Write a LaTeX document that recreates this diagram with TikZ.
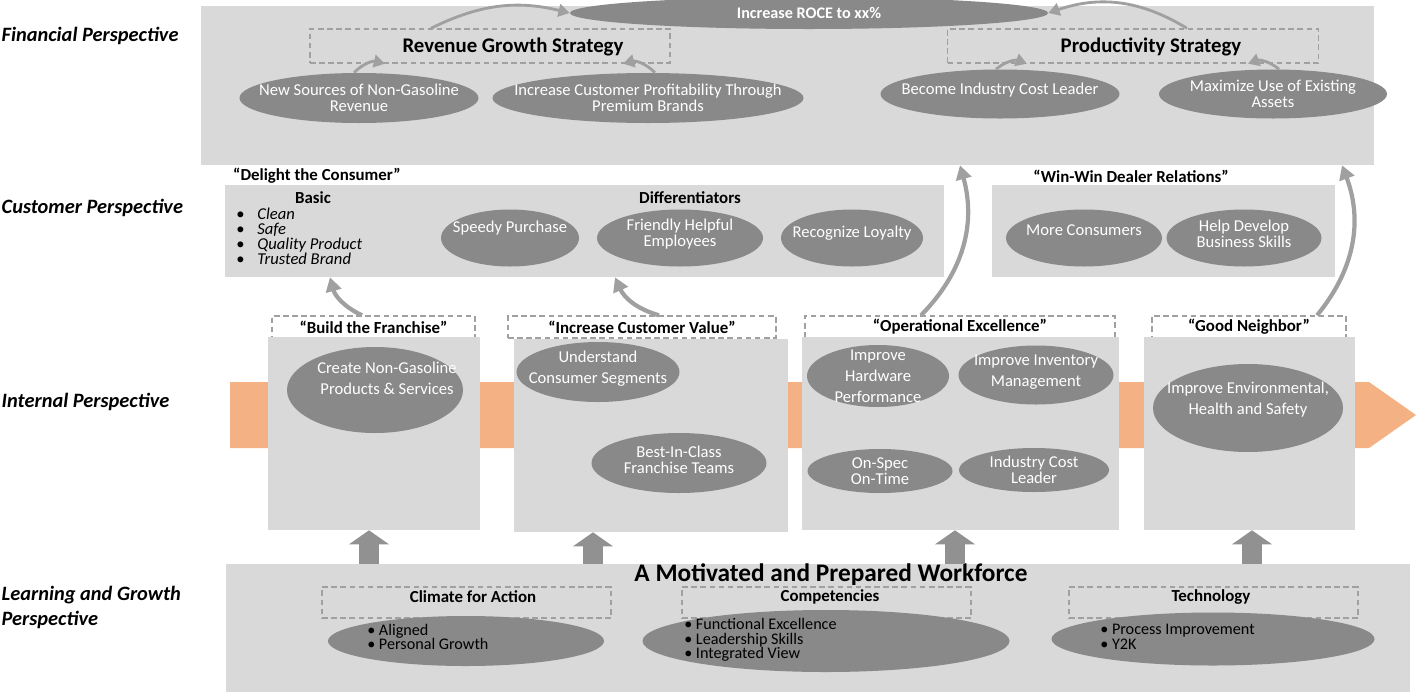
\documentclass[tikz,border=0pt]{standalone}
\usepackage{fontspec}
\setmainfont{Carlito}
\usetikzlibrary{shapes.geometric, arrows.meta, positioning}
\definecolor{panelgray}{RGB}{217, 217, 217}
\definecolor{ovalgray}{RGB}{137, 137, 137}
\definecolor{dashgray}{RGB}{160, 160, 160}
\definecolor{arrowgray}{RGB}{160, 160, 160}
\definecolor{blockgray}{RGB}{145, 145, 145}
\definecolor{bandorange}{RGB}{244, 177, 131}
\newcommand{\bitem}[1]{\makebox[15pt][l]{\textbullet}\textit{#1}}

\begin{document}
\begin{tikzpicture}[
    x=0.025cm, y=-0.025cm,
    sz/.style 2 args={
        minimum width=#1*0.025cm,
        minimum height=#2*0.025cm
    },
    panel/.style={
        fill=panelgray,
        inner sep=0pt
    },
    dashbox/.style={
        draw=dashgray,
        line width=1pt,
        dash pattern=on 4pt off 2.5pt,
        inner sep=0pt,
        font=\fontsize{12}{13}\selectfont\bfseries
    },
    oval/.style={
        ellipse,
        fill=ovalgray,
        inner sep=0pt
    },
    ovaltext/.style={
        text=white,
        align=center,
        font=\fontsize{11.8}{11.4}\selectfont
    },
    widetext/.style={
        ovaltext,
        font=\fontsize{11.8}{15}\selectfont
    },
    listtext/.style={
        align=left,
        inner sep=0pt,
        font=\fontsize{11.5}{10.3}\selectfont
    },
    persp/.style={
        anchor=west,
        align=left,
        inner xsep=1pt,
        font=\fontsize{14.5}{17.8}\selectfont\bfseries\itshape
    },
    strat/.style={
        font=\fontsize{14.8}{16}\selectfont\bfseries
    },
    subhead/.style={
        font=\fontsize{12}{13}\selectfont\bfseries
    },
    midarrow/.style={
        draw=arrowgray,
        line width=2pt,
        -{Triangle[length=8pt, width=9pt]}
    },
    bigarrow/.style={
        draw=arrowgray,
        line width=3pt,
        -{Triangle[length=10pt, width=11pt]}
    },
    blockarrow/.style={
        draw=blockgray,
        line width=14pt,
        -{Triangle[length=10pt, width=28pt]}
    }
]
\useasboundingbox (0,0) rectangle (1421,692);

% Perspectives
\node[persp] (finpersp) at (0,36) {Financial Perspective};
\node[persp] (custpersp) at (0,208) {Customer Perspective};
\node[persp] (intpersp) at (0,402) {Internal Perspective};
\node[persp] (learnpersp) at (0,607) {Learning and Growth\\Perspective};

% ==================== FINANCIAL ====================
\node[panel, sz={1173}{159}] (fin) at (787.5,85.5) {};
\node[oval, sz={478}{32}, text=white, font=\fontsize{11.5}{12}\selectfont\bfseries] (roce) at (809,13) {Increase ROCE to xx\%};

\node[dashbox, sz={360}{34}] (revbox) at (490,46) {};
\node[strat] (revtitle) at (513,47) {Revenue Growth Strategy};
\node[dashbox, sz={371}{34}] (prodbox) at (1133,46) {};
\node[strat] (prodtitle) at (1151,47) {Productivity Strategy};

\node[oval, sz={239}{50}, label={[ovaltext]center:{New Sources of Non-Gasoline\\Revenue}}] (newsrc) at (359,98) {};
\node[oval, sz={311}{50}, label={[ovaltext]center:{Increase Customer Profitability Through\\Premium Brands}}] (custprof) at (648,98) {};
\node[oval, sz={239}{49}, label={[ovaltext, yshift=0.1cm]center:{Become Industry Cost Leader}}] (costlead) at (1000,94) {};
\node[oval, sz={228}{49}, label={[ovaltext]center:{Maximize Use of Existing\\Assets}}] (assets) at (1273,94) {};

\draw[midarrow] (newsrc.north -| 354,0) to[bend left=30] (revbox.south -| 385,0);
\draw[midarrow] (custprof.north -| 655,0) to[bend right=30] (revbox.south -| 623,0);
\draw[midarrow] (costlead.north -| 996,0) to[bend left=30] (prodbox.south -| 1027,0);
\draw[midarrow] (assets.north -| 1279,0) to[bend right=30] (prodbox.south -| 1248,0);
\draw[midarrow] (revbox.north -| 431,0) to[bend left=20] (roce.west);
\draw[midarrow] (prodbox.north -| 1187,0) to[bend right=25] (roce.east);

% ==================== CUSTOMER ====================
\node[subhead] (delight) at (317,176) {“Delight the Consumer”};
\node[panel, sz={719}{92}] (delightpanel) at (584,231) {};
\node[subhead] (basic) at (313,198) {Basic};
\node[listtext, anchor=north west, font=\fontsize{11.8}{10.5}\selectfont] (basiclist) at (236,208)
    {\bitem{Clean}\\\bitem{Safe}\\\bitem{Quality Product}\\\bitem{Trusted Brand}};
\node[subhead] (diff) at (690,198) {Differentiators};
\node[oval, sz={138}{57}, label={[ovaltext, yshift=0.25cm]center:{Speedy Purchase}}] (speedy) at (510,238) {};
\node[oval, sz={166}{57}, label={[ovaltext, yshift=0.1cm]center:{Friendly Helpful\\Employees}}] (friendly) at (680,238) {};
\node[oval, sz={142}{57}, label={[ovaltext, yshift=0.12cm]center:{Recognize Loyalty}}] (loyalty) at (852,238) {};

\node[subhead] (winwin) at (1131,176) {“Win-Win Dealer Relations”};
\node[panel, sz={343}{92}] (dealerpanel) at (1163.5,231) {};
\node[oval, sz={156}{57}, label={[ovaltext, yshift=0.2cm]center:{More Consumers}}] (morecons) at (1084,238) {};
\node[oval, sz={155}{57}, label={[ovaltext, yshift=0.1cm]center:{Help Develop\\Business Skills}}] (bizskills) at (1244,238) {};

% ==================== INTERNAL ====================
\fill[bandorange] (230,382) -- (1369,382) -- (1416,415) -- (1369,448) -- (230,448) -- cycle;

\node[dashbox, sz={203}{22}] (franlbl) at (373.5,327) {“Build the Franchise”};
\node[dashbox, sz={268}{22}] (custvlbl) at (642,327) {“Increase Customer Value”};
\node[dashbox, sz={310}{22}] (opexlbl) at (960,327) {“Operational Excellence”};
\node[dashbox, sz={194}{22}] (goodlbl) at (1249,327) {“Good Neighbor”};

\node[panel, sz={212}{193}] (franbox) at (374,433.5) {};
\node[panel, sz={274}{193}] (custvbox) at (651,435.5) {};
\node[panel, sz={317}{193}] (opexbox) at (960.5,433.5) {};
\node[panel, sz={211}{193}] (goodbox) at (1249.5,433.5) {};

\node[oval, sz={176}{86}, label={[widetext, xshift=0.3cm, yshift=0.3cm]center:{Create Non-Gasoline\\Products \& Services}}] (nongas) at (375,390) {};
\node[oval, sz={163}{60}, label={[widetext, yshift=0.08cm]center:{Understand\\Consumer Segments}}] (segments) at (598,372) {};
\node[oval, sz={175}{60}, label={[ovaltext, yshift=0.08cm]center:{Best-In-Class\\Franchise Teams}}] (franteams) at (679,463) {};
\node[oval, sz={142}{62}, label={[widetext]center:{Improve\\Hardware\\Performance}}] (hardware) at (878,376) {};
\node[oval, sz={155}{59}, label={[widetext, yshift=0.08cm]center:{Improve Inventory\\Management}}] (inventory) at (1036,375) {};
\node[oval, sz={145}{44}, label={[ovaltext]center:{On-Spec\\On-Time}}] (onspec) at (880,471) {};
\node[oval, sz={150}{44}, label={[ovaltext]center:{Industry Cost\\Leader}}] (icl) at (1034,470) {};
\node[oval, sz={190}{88}, label={[widetext, yshift=0.2cm]center:{Improve Environmental,\\Health and Safety}}] (envhs) at (1248,408) {};

\draw[bigarrow] (franlbl.north -| 362,0) to[bend left=25] (delightpanel.south -| 330,0);
\draw[bigarrow] (custvlbl.north -| 659,0) to[bend left=25] (delightpanel.south -| 615,0);
\draw[bigarrow] (opexlbl.north -| 921,0) to[bend right=30] (fin.south -| 960,0);
\draw[bigarrow] (goodlbl.north -| 1317,0) to[bend right=30] (fin.south -| 1342,0);

% ==================== LEARNING AND GROWTH ====================
\node[panel, sz={1184}{128}] (learn) at (818,628) {};
\node[font=\fontsize{18}{20}\selectfont\bfseries] (workforce) at (831,575) {A Motivated and Prepared Workforce};

\draw[blockarrow] (learn.north -| 369,0) -- (franbox.south -| 369,0);
\draw[blockarrow] (learn.north -| 593,0) -- (custvbox.south -| 593,0);
\draw[blockarrow] (learn.north -| 955,0) -- (opexbox.south -| 955,0);
\draw[blockarrow] (learn.north -| 1252,0) -- (goodbox.south -| 1252,0);

\node[dashbox, sz={289}{31}] (climatebox) at (466.5,602.5) {};
\node[subhead] (climate) at (473,597) {Climate for Action};
\node[dashbox, sz={289}{31}] (compbox) at (826.5,602.5) {};
\node[subhead] (comp) at (830,597) {Competencies};
\node[dashbox, sz={289}{31}] (techbox) at (1213.5,602.5) {};
\node[subhead] (tech) at (1211,597) {Technology};

\node[oval, sz={276}{50}] (climateov) at (466,641) {};
\node[listtext, anchor=west] (climatelist) at (367,637) {\textbullet\ Aligned\\\textbullet\ Personal Growth};
\node[oval, sz={367}{62}] (compov) at (826,641) {};
\node[listtext, anchor=west] (complist) at (684,640) {\textbullet\ Functional Excellence\\\textbullet\ Leadership Skills\\\textbullet\ Integrated View};
\node[oval, sz={323}{53}] (techov) at (1213,639) {};
\node[listtext, anchor=west] (techlist) at (1100,637) {\textbullet\ Process Improvement\\\textbullet\ Y2K};

\end{tikzpicture}
\end{document}
